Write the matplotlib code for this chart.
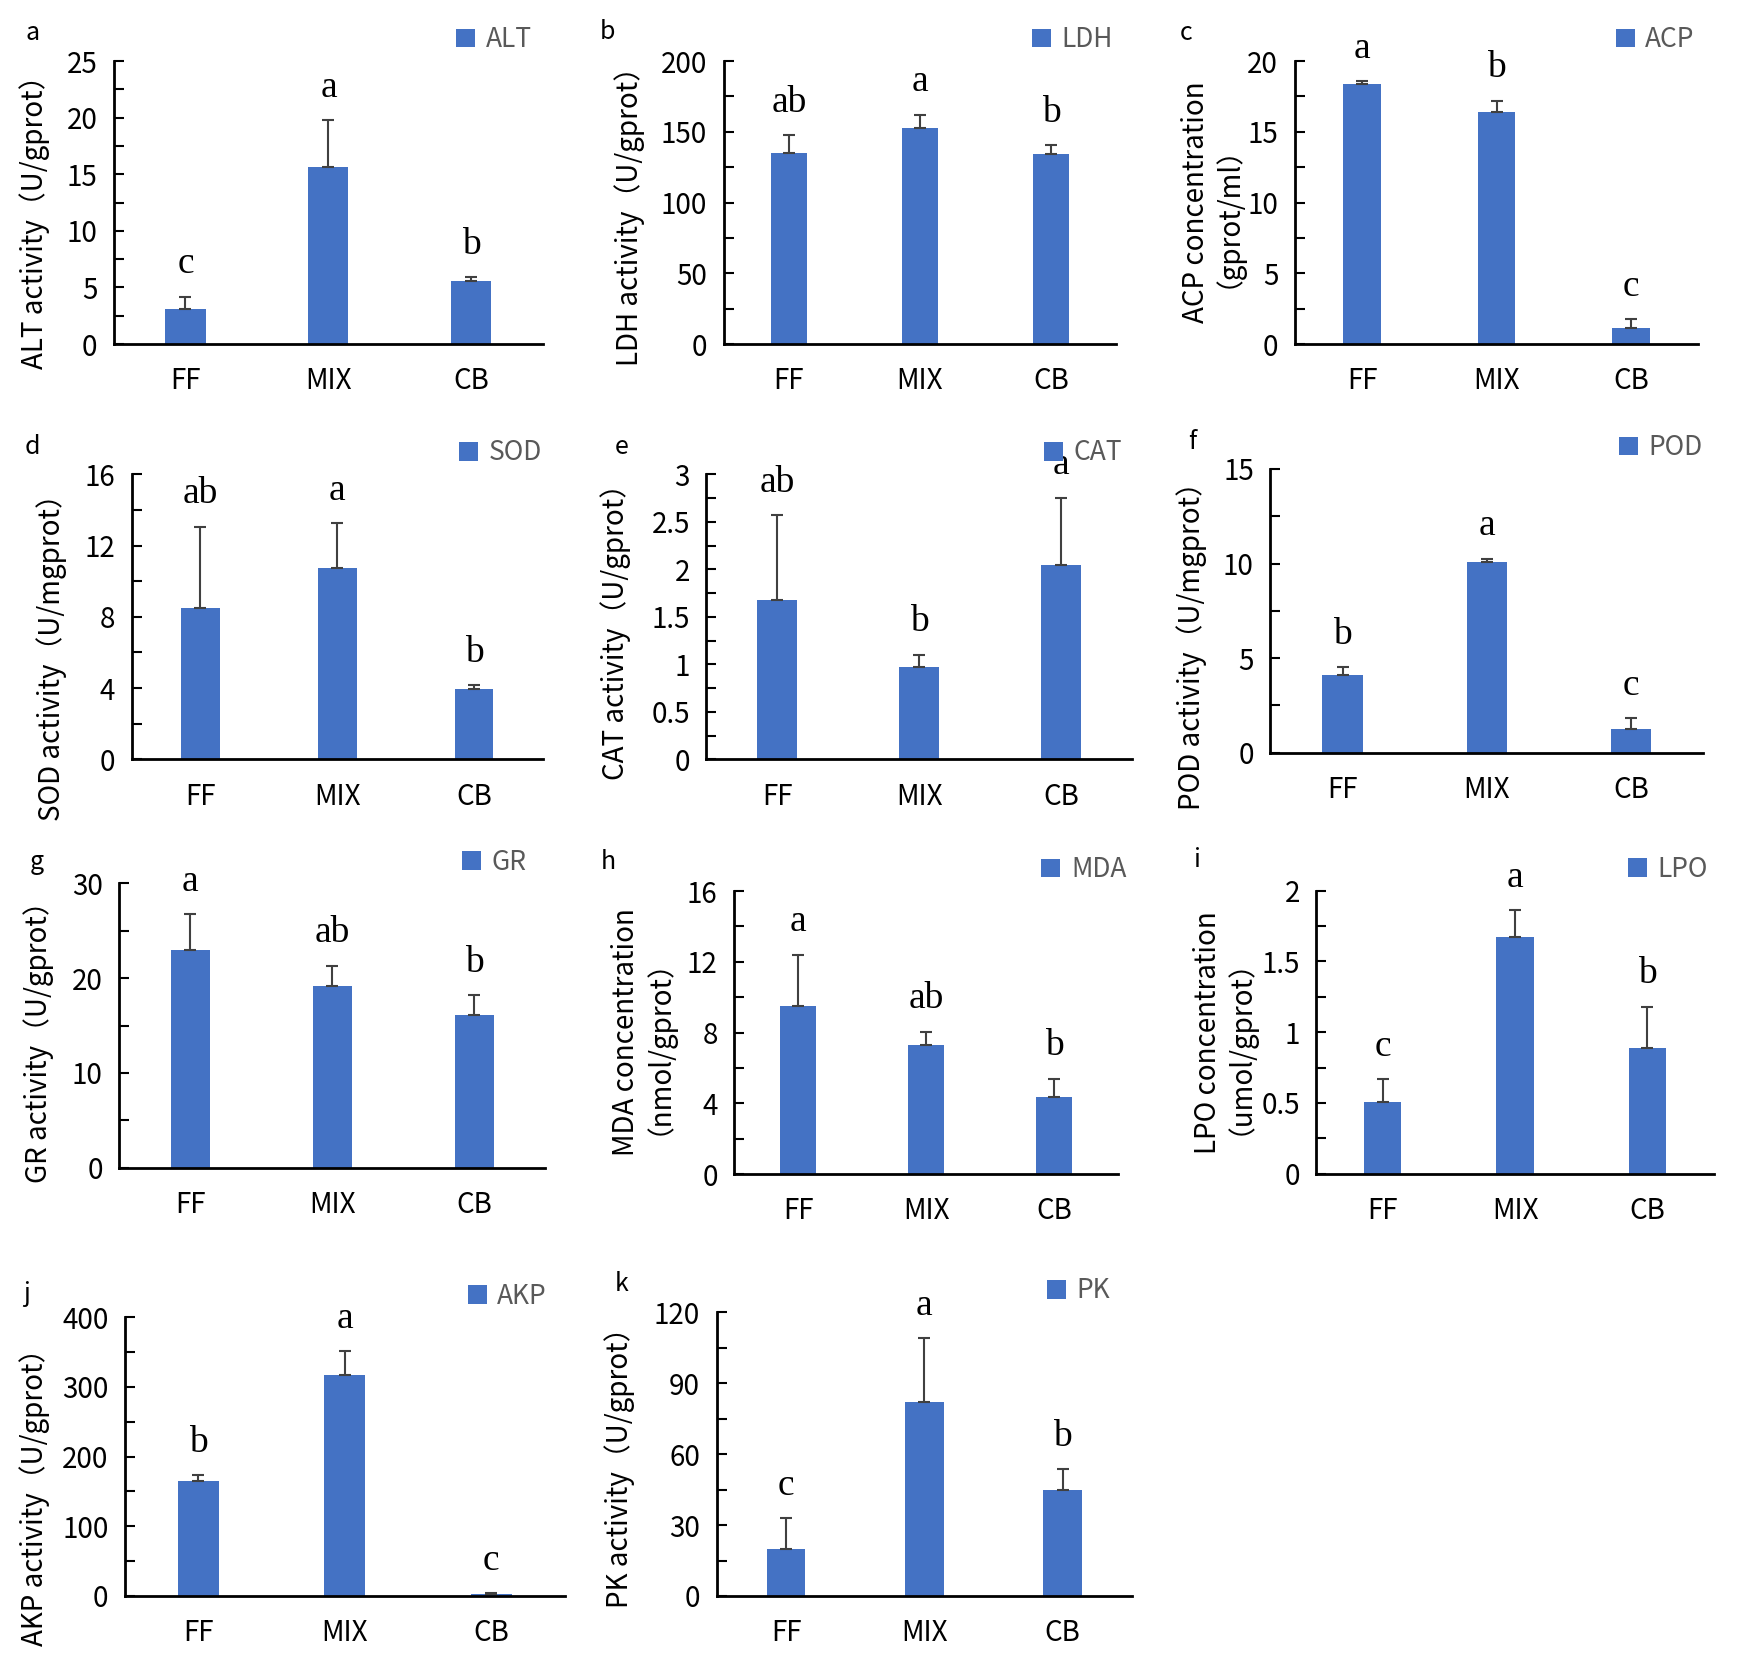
import numpy as np
import matplotlib
matplotlib.use('Agg')
import matplotlib.pyplot as plt
from matplotlib.ticker import MultipleLocator
from matplotlib.transforms import blended_transform_factory

plt.rcParams['font.family'] = ['Noto Sans CJK SC', 'DejaVu Sans']

groups = ["FF", "MIX", "CB"]

# enzyme means, upper error, significance letters
alt_mean = [3.1, 15.6, 5.6]
alt_err = [1.1, 4.2, 0.3]
alt_sig = ["c", "a", "b"]

ldh_mean = [135, 153, 134]
ldh_err = [12.5, 9, 6.5]
ldh_sig = ["ab", "a", "b"]

acp_mean = [18.35, 16.4, 1.15]
acp_err = [0.25, 0.8, 0.6]
acp_sig = ["a", "b", "c"]

sod_mean = [8.5, 10.75, 3.95]
sod_err = [4.55, 2.5, 0.2]
sod_sig = ["ab", "a", "b"]

cat_mean = [1.68, 0.97, 2.05]
cat_err = [0.89, 0.13, 0.70]
cat_sig = ["ab", "b", "a"]

pod_mean = [4.12, 10.1, 1.25]
pod_err = [0.41, 0.16, 0.57]
pod_sig = ["b", "a", "c"]

gr_mean = [23.0, 19.2, 16.1]
gr_err = [3.75, 2.1, 2.1]
gr_sig = ["a", "ab", "b"]

mda_mean = [9.5, 7.3, 4.35]
mda_err = [2.9, 0.75, 1.05]
mda_sig = ["a", "ab", "b"]

lpo_mean = [0.51, 1.67, 0.89]
lpo_err = [0.16, 0.19, 0.29]
lpo_sig = ["c", "a", "b"]

akp_mean = [165, 317, 2.5]
akp_err = [9, 35, 1.5]
akp_sig = ["b", "a", "c"]

pk_mean = [20, 82, 45]
pk_err = [12.9, 27, 8.6]
pk_sig = ["c", "a", "b"]

# name, ylabel, mean, err, letters, ymax, step
panels = [
    ("ALT", "ALT activity（U/gprot）", alt_mean, alt_err, alt_sig, 25, 5),
    ("LDH", "LDH activity（U/gprot）", ldh_mean, ldh_err, ldh_sig, 200, 50),
    ("ACP", "ACP concentration\n（gprot/ml）", acp_mean, acp_err, acp_sig, 20, 5),
    ("SOD", "SOD activity（U/mgprot）", sod_mean, sod_err, sod_sig, 16, 4),
    ("CAT", "CAT activity（U/gprot）", cat_mean, cat_err, cat_sig, 3, 0.5),
    ("POD", "POD activity（U/mgprot）", pod_mean, pod_err, pod_sig, 15, 5),
    ("GR", "GR activity（U/gprot）", gr_mean, gr_err, gr_sig, 30, 10),
    ("MDA", "MDA concentration\n（nmol/gprot）", mda_mean, mda_err, mda_sig, 16, 4),
    ("LPO", "LPO concentration\n（umol/gprot）", lpo_mean, lpo_err, lpo_sig, 2, 0.5),
    ("AKP", "AKP activity（U/gprot）", akp_mean, akp_err, akp_sig, 400, 100),
    ("PK", "PK activity（U/gprot）", pk_mean, pk_err, pk_sig, 120, 30),
]

# layout (figure fractions): left, right, bottom, top
boxes = [
    (0.0654, 0.3115, 0.7936, 0.9634), (0.4151, 0.6405, 0.7936, 0.9634), (0.7429, 0.9744, 0.7936, 0.9634),
    (0.0757, 0.3114, 0.5445, 0.7155), (0.4053, 0.6494, 0.5445, 0.7155), (0.7289, 0.9773, 0.5485, 0.7187),
    (0.0685, 0.3129, 0.2995, 0.4701), (0.4213, 0.6416, 0.2957, 0.4655), (0.7553, 0.9831, 0.2959, 0.4657),
    (0.0718, 0.3239, 0.0426, 0.2098), (0.4113, 0.6494, 0.0426, 0.2128),
]
letter_xy = [(0.0187, 0.980), (0.3487, 0.981), (0.6804, 0.980),
             (0.0187, 0.732), (0.3565, 0.732), (0.6837, 0.735),
             (0.0209, 0.483), (0.3491, 0.483), (0.6869, 0.484),
             (0.0154, 0.224), (0.3565, 0.230)]
ylab_x = [0.0198, 0.3614, 0.6913, 0.0297, 0.3533, 0.6837, 0.0220, 0.3645, 0.6982, 0.0198, 0.3555]
ylab_y = [0.456, 0.474, 0.5, 0.38, 0.471, 0.402, 0.467, 0.5, 0.5, 0.38, 0.475]
leg_x = [0.974, 0.991, 0.991, 0.997, 0.978, 0.998, 0.955, 1.021, 0.986, 0.96, 0.947]
tags = "abcdefghijk"

bar_color = "#4472C4"
x = np.arange(len(groups))

fig = plt.figure(figsize=(17.43, 16.67), dpi=100)

for i, (name, ylab, mean, err, sig, ymax, step) in enumerate(panels):
    l, r, b, t = boxes[i]
    ax = fig.add_axes([l, b, r - l, t - b])
    bars = ax.bar(x, mean, width=0.28, color=bar_color, label=name, zorder=2)
    ax.errorbar(x, mean, yerr=[np.zeros(len(err)), err], fmt='none',
                ecolor="#404040", elinewidth=1.5, capsize=4, capthick=1.5, zorder=3)
    for xi, m, e, s in zip(x, mean, err, sig):
        ax.text(xi, m + e + 0.115 * ymax, s, ha='center', va='center',
                family='Liberation Serif', fontsize=27)
    ax.set_xlim(-0.5, 2.5)
    ax.set_ylim(0, ymax)
    ax.yaxis.set_major_locator(MultipleLocator(step))
    ax.yaxis.set_minor_locator(MultipleLocator(step / 2))
    ax.yaxis.set_major_formatter(plt.FuncFormatter(lambda v, p: f"{v:g}"))
    ax.set_xticks(x)
    ax.set_xticklabels(groups, fontsize=20)
    ax.tick_params(axis='x', length=0, pad=16)
    ax.tick_params(axis='y', which='both', direction='in', length=7, width=1.5,
                   labelsize=20, pad=12)
    for sp in ['top', 'right']:
        ax.spines[sp].set_visible(False)
    for sp in ['left', 'bottom']:
        ax.spines[sp].set_linewidth(2)
    ax.set_ylabel(ylab, fontsize=20, linespacing=0.45)
    ax.yaxis.label.set_va('center')
    tr = blended_transform_factory(fig.transFigure, ax.transAxes)
    ax.yaxis.set_label_coords(ylab_x[i], ylab_y[i], transform=tr)
    leg = ax.legend(handles=[bars], loc='center right', bbox_to_anchor=(leg_x[i], 1.075),
                    frameon=False, fontsize=19, handlelength=0.72, handleheight=0.72,
                    handletextpad=0.4, borderpad=0, borderaxespad=0)
    for txt in leg.get_texts():
        txt.set_color("#595959")
    fig.text(letter_xy[i][0], letter_xy[i][1], tags[i], ha='center', va='center', fontsize=18)

plt.savefig("out.png", dpi=100)
